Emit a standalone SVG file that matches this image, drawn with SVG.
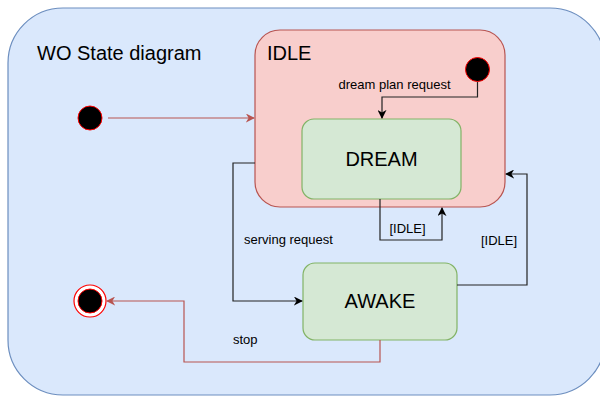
<svg xmlns="http://www.w3.org/2000/svg" width="600" height="396" viewBox="0 0 600 396">
<style>
text{font-family:"Liberation Sans",Arial,Helvetica,sans-serif;fill:#000}
.big{font-size:20px}
.lbl{font-size:13px}
.blk{fill:none;stroke:#222;stroke-width:1.2}
.red{fill:none;stroke:#b85450;stroke-width:1.2}
.state{fill:#d5e8d4;stroke:#82b366;stroke-width:1.2}
</style>
<defs>
<marker id="ab" viewBox="0 0 10 10" refX="9" refY="5" markerWidth="9" markerHeight="9" markerUnits="userSpaceOnUse" orient="auto">
<path d="M0,0 L10,5 L0,10 L3,5 Z" fill="#000"/>
</marker>
<marker id="ar" viewBox="0 0 10 10" refX="9" refY="5" markerWidth="9" markerHeight="9" markerUnits="userSpaceOnUse" orient="auto">
<path d="M0,0 L10,5 L0,10 L3,5 Z" fill="#b85450"/>
</marker>
</defs>
<g id="container">
<rect x="8" y="8" width="597" height="387" rx="55" fill="#dae8fc" stroke="#6c8ebf" stroke-width="1.2"/>
<text class="big" x="37" y="60">WO State diagram</text>
</g>
<g id="idle">
<rect x="255" y="30" width="250" height="177" rx="25" fill="#f8cecc" stroke="#b85450" stroke-width="1.2"/>
<text class="big" x="267" y="60">IDLE</text>
</g>
<g id="idle-start">
<circle cx="477.5" cy="69.5" r="12" fill="#000" stroke="#ff0000" stroke-width="1"/>
</g>
<g id="dream">
<rect class="state" x="302" y="119" width="159" height="80" rx="12"/>
<text class="big" x="381.5" y="166" text-anchor="middle">DREAM</text>
</g>
<g id="awake">
<rect class="state" x="303" y="263" width="154" height="77" rx="12"/>
<text class="big" x="380" y="308" text-anchor="middle">AWAKE</text>
</g>
<g id="start">
<circle cx="90" cy="118" r="12" fill="#000" stroke="#ff0000" stroke-width="1"/>
</g>
<g id="end">
<circle cx="90" cy="301" r="16" fill="#fff" stroke="#ff0000" stroke-width="1.2"/>
<circle cx="90" cy="301" r="12" fill="#000" stroke="#ff0000" stroke-width="1"/>
</g>
<g id="connectors">
<path class="red" d="M108,118 H254" marker-end="url(#ar)"/>
<path class="blk" d="M477.5,82 V97 H382 V118" marker-end="url(#ab)"/>
<path class="blk" d="M255,163 H233 V301 H302" marker-end="url(#ab)"/>
<path class="blk" d="M380,199 V240 H442 V208" marker-end="url(#ab)"/>
<path class="blk" d="M457,285 H527 V174 H506" marker-end="url(#ab)"/>
<path class="red" d="M380,340 V362 H184 V301 H107" marker-end="url(#ar)"/>
</g>
<g id="labels">
<text class="lbl" x="394.5" y="89" text-anchor="middle">dream plan request</text>
<text class="lbl" x="244" y="244">serving request</text>
<text class="lbl" x="407.5" y="233" text-anchor="middle">[IDLE]</text>
<text class="lbl" x="499" y="245" text-anchor="middle">[IDLE]</text>
<text class="lbl" x="233" y="344">stop</text>
</g>
</svg>
